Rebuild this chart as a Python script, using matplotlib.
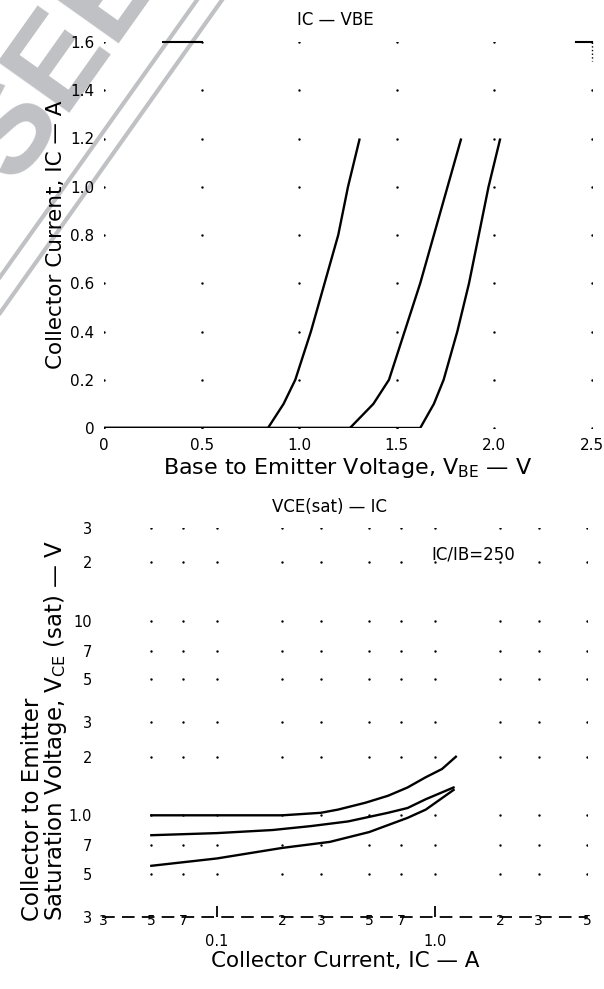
from matplotlib import pyplot as plt
import numpy as np

#~~~~~~~~~~~~~~~~~~~~~~~~~~~~~~~~~~~~~~~~~~~~~~~~~~~~~~~
# data
#~~~~~~~~~~~~~~~~~~~~~~~~~~~~~~~~~~~~~~~~~~~~~~~~~~~~~~~
# IC - VBE (three curves)
vbe_1 = [0, 0.84, 0.92, 0.98, 1.06, 1.13, 1.20, 1.25, 1.31]
ic_1 = [0, 0, 0.1, 0.2, 0.4, 0.6, 0.8, 1.0, 1.2]
vbe_2 = [0, 1.26, 1.38, 1.46, 1.54, 1.62, 1.69, 1.76, 1.83]
ic_2 = [0, 0, 0.1, 0.2, 0.4, 0.6, 0.8, 1.0, 1.2]
vbe_3 = [0, 1.62, 1.69, 1.74, 1.81, 1.87, 1.92, 1.97, 2.03]
ic_3 = [0, 0, 0.1, 0.2, 0.4, 0.6, 0.8, 1.0, 1.2]

top_xticks = [0, 0.5, 1.0, 1.5, 2.0, 2.5]
top_xlabels = ['0', '0.5', '1.0', '1.5', '2.0', '2.5']
top_yticks = [0, 0.2, 0.4, 0.6, 0.8, 1.0, 1.2, 1.4, 1.6]
top_ylabels = ['0', '0.2', '0.4', '0.6', '0.8', '1.0', '1.2', '1.4', '1.6']

# VCE(sat) - IC, IC/IB = 250
ic_a = [0.05, 0.1, 0.2, 0.3, 0.36, 0.48, 0.61, 0.75, 0.91, 1.08, 1.25]
vce_a = [1.0, 1.0, 1.0, 1.03, 1.07, 1.16, 1.26, 1.39, 1.57, 1.73, 2.0]
ic_b = [0.05, 0.1, 0.18, 0.27, 0.4, 0.61, 0.75, 0.91, 1.22]
vce_b = [0.79, 0.81, 0.84, 0.88, 0.93, 1.03, 1.09, 1.21, 1.39]
ic_c = [0.05, 0.1, 0.2, 0.33, 0.5, 0.75, 0.91, 1.22]
vce_c = [0.55, 0.6, 0.68, 0.73, 0.82, 0.97, 1.07, 1.35]

bot_xticks = [0.03, 0.05, 0.07, 0.1, 0.2, 0.3, 0.5, 0.7, 1.0, 2, 3, 5]
bot_xlabels = ['3', '5', '7', '', '2', '3', '5', '7', '', '2', '3', '5']
bot_xmajor = [0.1, 1.0]
bot_xmajor_labels = ['0.1', '1.0']
bot_yticks = [0.3, 0.5, 0.7, 1.0, 2, 3, 5, 7, 10, 20, 30]
bot_ylabels = ['3', '5', '7', '1.0', '2', '3', '5', '7', '10', '2', '3']

#~~~~~~~~~~~~~~~~~~~~~~~~~~~~~~~~~~~~~~~~~~~~~~~~~~~~~~~
# figure
#~~~~~~~~~~~~~~~~~~~~~~~~~~~~~~~~~~~~~~~~~~~~~~~~~~~~~~~
plt.rcParams['font.family'] = ['DejaVu Sans']
fig = plt.figure(figsize=(6.04, 9.89), dpi=100)

# watermark in the top left corner (behind everything)
wm = '#c0c1c4'
fig.text(62/604, 1-62/989, 'SEE', rotation=54.6, color=wm, fontsize=92,
         fontweight='bold', ha='center', va='center', zorder=-10,
         rotation_mode='anchor', family='Liberation Sans')
fig.add_artist(plt.Line2D([197/604, 0], [1, 1-277/989], color=wm, lw=3, zorder=-10))
fig.add_artist(plt.Line2D([222/604, 0], [1, 1-313/989], color=wm, lw=3, zorder=-10))

# ---- top chart
ax1 = fig.add_axes([104/604, 1-428/989, 488/604, 386/989])
ax1.patch.set_alpha(0)
for c in ((vbe_1, ic_1), (vbe_2, ic_2), (vbe_3, ic_3)):
    ax1.plot(c[0], c[1], color='black', lw=1.7, solid_capstyle='butt')
gx, gy = np.meshgrid(top_xticks, top_yticks)
ax1.scatter(gx.ravel(), gy.ravel(), s=3, color='black', lw=0)
ax1.set_xlim(0, 2.5)
ax1.set_ylim(0, 1.6)
ax1.set_xticks(top_xticks)
ax1.set_xticklabels(top_xlabels)
ax1.set_yticks(top_yticks)
ax1.set_yticklabels(top_ylabels)
ax1.tick_params(length=0, labelsize=11, pad=7)
for s in ax1.spines.values():
    s.set_visible(False)
ax1.set_xlabel('Base to Emitter Voltage, V$_{\\rm BE}$ \u2014 V', fontsize=16, labelpad=2)
ax1.set_ylabel('Collector Current, IC \u2014 A', fontsize=15.5, labelpad=3)
# leftovers of the frame
ax1.plot([0.3, 0.5], [1.6, 1.6], color='black', lw=1.5, clip_on=False)
ax1.plot([2.42, 2.5], [1.6, 1.6], color='black', lw=1.5, clip_on=False)
ax1.plot([2.5, 2.5], [1.6, 1.52], color='black', lw=1, ls=':', clip_on=False)
fig.text(335/604, 1-20/989, 'IC \u2014 VBE', fontsize=12, ha='center', va='center')

# ---- bottom chart
ax2 = fig.add_axes([103/604, 1-917/989, 484/604, 389/989])
ax2.patch.set_alpha(0)
ax2.set_xscale('log')
ax2.set_yscale('log')
for c in ((ic_a, vce_a), (ic_b, vce_b), (ic_c, vce_c)):
    ax2.plot(c[0], c[1], color='black', lw=1.7)
gx, gy = np.meshgrid(bot_xticks[1:], bot_yticks[1:])
ax2.scatter(gx.ravel(), gy.ravel(), s=3, color='black', lw=0)
ax2.set_xlim(0.03, 5)
ax2.set_ylim(0.3, 30)
ax2.xaxis.remove_overlapping_locs = False
ax2.set_xticks(bot_xticks)
ax2.set_xticklabels(bot_xlabels)
ax2.set_xticks(bot_xmajor, minor=True)
ax2.set_xticklabels(bot_xmajor_labels, minor=True)
ax2.set_yticks(bot_yticks)
ax2.set_yticklabels(bot_ylabels)
ax2.set_yticks([], minor=True)
ax2.tick_params(axis='x', which='major', length=0, labelsize=10, pad=-2)
ax2.tick_params(axis='x', which='minor', direction='in', length=8, width=1.3,
                labelsize=10.5, pad=12)
ax2.tick_params(axis='y', length=0, labelsize=10.5, pad=8)
for k in ('top', 'right', 'left'):
    ax2.spines[k].set_visible(False)
ax2.spines['bottom'].set_linewidth(1.3)
ax2.spines['bottom'].set_linestyle((0, (6, 5)))
ax2.set_xlabel('Collector Current, IC \u2014 A', fontsize=15.5, labelpad=2)
ax2.set_ylabel('Collector to Emitter\nSaturation Voltage, V$_{\\rm CE}$ (sat) \u2014 V',
               fontsize=16.5, linespacing=0.9, multialignment='left')
ax2.yaxis.set_label_coords(-0.07, 0.48)
ax2.text(1.5, 22, 'IC/IB=250', fontsize=12, ha='center', va='center')
fig.text(330/604, 1-507/989, 'VCE(sat) \u2014 IC', fontsize=12, ha='center', va='center')

plt.savefig('out.png', dpi=100)
